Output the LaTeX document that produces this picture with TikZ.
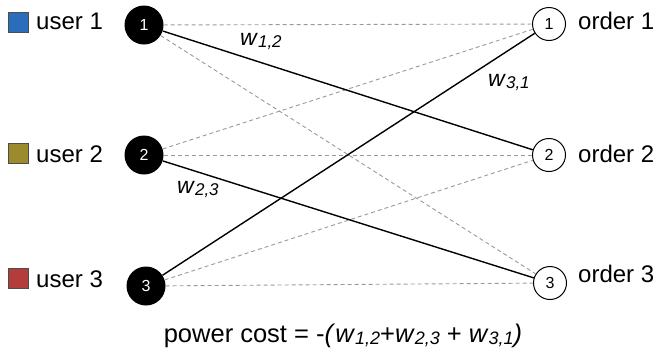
\documentclass[tikz,border=0pt]{standalone}
\usepackage{fontspec}
\setmainfont{Liberation Sans}
\definecolor{ublue}{HTML}{2A6EBB}
\definecolor{uolive}{HTML}{9C8B2E}
\definecolor{ured}{HTML}{B43C3A}
\definecolor{dgray}{HTML}{999999}
\newcommand{\wlab}[1]{\textit{w}\raisebox{-0.1em}{\fontsize{17}{17}\selectfont\textit{#1}}}
\newcommand{\wlabb}[1]{\textit{w}\raisebox{-0.1em}{\fontsize{18}{18}\selectfont\textit{#1}}}
\begin{document}
\begin{tikzpicture}[x=1pt,y=-1pt,
  unode/.style={circle, fill=black, minimum size=39pt, inner sep=0pt, text=white, font=\fontsize{16}{16}\selectfont},
  onode/.style={circle, draw=black, line width=1pt, fill=white, minimum size=33pt, inner sep=0pt, font=\fontsize{16}{16}\selectfont},
  sq/.style={draw=black!70, line width=0.6pt, minimum size=20pt, inner sep=0pt},
  lbl/.style={anchor=base west, inner sep=0pt, font=\fontsize{24}{24}\selectfont},
  wl/.style={anchor=base west, inner sep=0pt, font=\fontsize{23}{23}\selectfont},
  matchline/.style={line width=1.4pt, black},
  candline/.style={line width=0.9pt, dgray, dash pattern=on 4pt off 3pt}]
\useasboundingbox (0,0) rectangle (663,362);
% user side
\node[sq, fill=ublue] (s1) at (18.5,22) {};
\node[sq, fill=uolive] (s2) at (18.5,153) {};
\node[sq, fill=ured] (s3) at (18.5,278) {};
\node[lbl] (t1) at (36,29) {user 1};
\node[lbl] (t2) at (36,162) {user 2};
\node[lbl] (t3) at (36,287) {user 3};
\node[unode] (u1) at (144,25) {1};
\node[unode] (u2) at (144,155) {2};
\node[unode] (u3) at (146,286) {3};
% order side
\node[onode] (o1) at (549,24) {1};
\node[onode] (o2) at (549,155) {2};
\node[onode] (o3) at (550,283) {3};
\node[lbl] (r1) at (578,29) {order 1};
\node[lbl] (r2) at (578,162) {order 2};
\node[lbl] (r3) at (578,282) {order 3};
% candidate edges
\draw[candline] (u1) -- (o1);
\draw[candline] (u1) -- (o3);
\draw[candline] (u2) -- (o1);
\draw[candline] (u2) -- (o2);
\draw[candline] (u3) -- (o2);
\draw[candline] (u3) -- (o3);
% matching edges
\draw[matchline] (u1) -- (o2);
\draw[matchline] (u2) -- (o3);
\draw[matchline] (u3) -- (o1);
% weights
\node[wl] (w12) at (240,45) {\wlab{1,2}};
\node[wl] (w31) at (488,86) {\wlab{3,1}};
\node[wl] (w23) at (177,193) {\wlab{2,3}};
% cost
\node[anchor=base, inner sep=0pt, font=\fontsize{25.5}{25.5}\selectfont] (cost) at (343,342)
  {power cost = -\textit{(}\wlabb{1,2}+\wlabb{2,3} + \wlabb{3,1}\textit{)}};
\end{tikzpicture}
\end{document}
